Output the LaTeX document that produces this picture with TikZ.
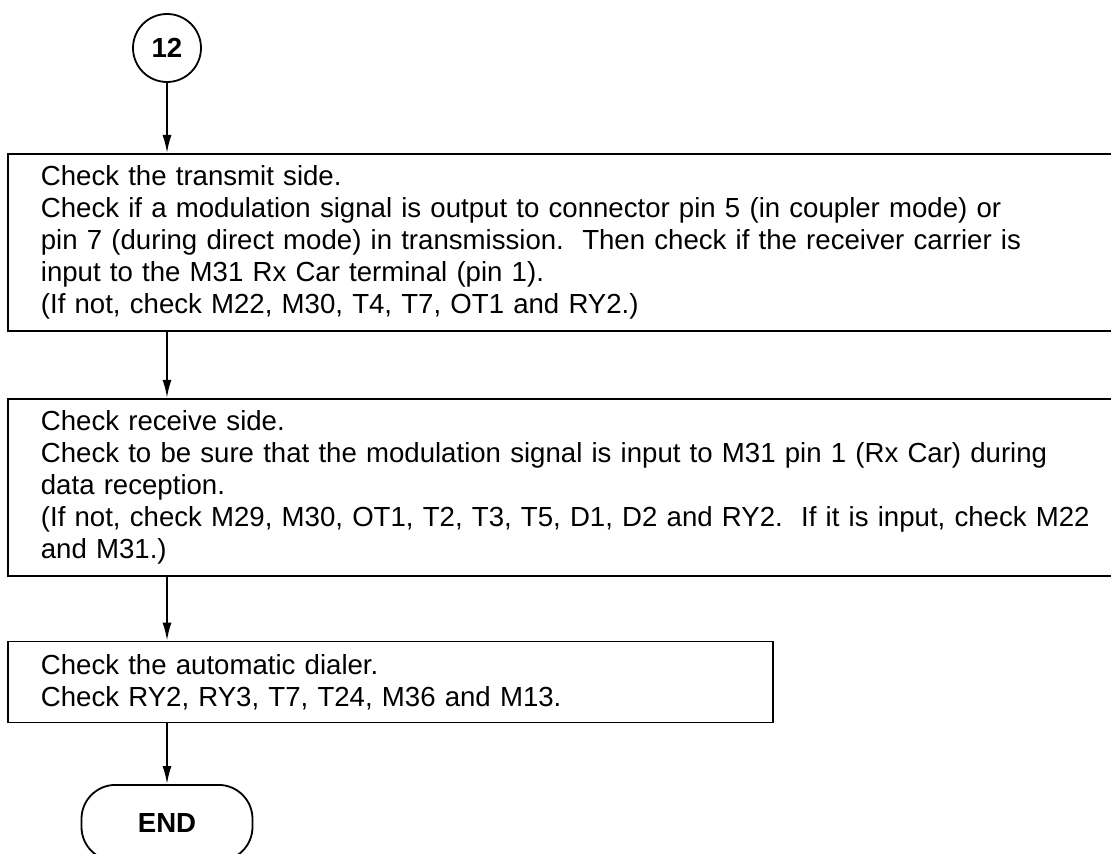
\documentclass[tikz,border=0pt]{standalone}
\usepackage{fontspec}
\setmainfont{Liberation Sans}
\usepackage{tikz}
\usetikzlibrary{arrows.meta}
\usetikzlibrary{positioning}
\tikzset{
  stepbox/.style={draw, line width=0.9pt, align=left, inner xsep=16.5pt, text width=#1,
    font=\fontsize{13.8}{16}\selectfont},
  stepbox/.default=600pt,
  ring/.style={draw, circle, line width=0.9pt, minimum size=34pt, inner sep=0pt,
    font=\fontsize{13.8}{16}\selectfont\bfseries},
  term/.style={draw, rounded corners=17pt, line width=0.9pt, minimum width=85.5pt,
    minimum height=38pt, font=\fontsize{13.8}{16}\selectfont\bfseries},
  flow/.style={-{Latex[length=9pt, width=4.5pt]}, line width=0.9pt},
}

\begin{document}
\begin{tikzpicture}
  \useasboundingbox (0,0) rectangle (555.5pt,-427pt);
  \node[ring] (start) at (83.5pt,-24pt) {12};
  \node[stepbox, minimum height=88.5pt, anchor=north west] (transmit) at (3.5pt,-76.5pt)
    {Check the transmit side.\\
     Check if a modulation signal is output to connector pin 5 (in coupler mode) or\\
     pin 7 (during direct mode) in transmission.\ \ Then check if the receiver carrier is\\
     input to the M31 Rx Car terminal (pin 1).\\
     (If not, check M22, M30, T4, T7, OT1 and RY2.)};
  \node[stepbox, minimum height=88.5pt, below=33pt of transmit.south west, anchor=north west] (receive)
    {Check receive side.\\
     Check to be sure that the modulation signal is input to M31 pin 1 (Rx Car) during\\
     data reception.\\
     (If not, check M29, M30, OT1, T2, T3, T5, D1, D2 and RY2.\ \ If it is input, check M22\\
     and M31.)};
  \node[stepbox=349.5pt, minimum width=382.5pt, minimum height=40.5pt, below=32pt of receive.south west, anchor=north west] (dialer)
    {Check the automatic dialer.\\
     Check RY2, RY3, T7, T24, M36 and M13.};
  \node[term, anchor=north] (finish) at (83.5pt,-392pt) {END};
  % flow lines
  \draw[flow] (start) -- (start |- transmit.north);
  \draw[flow] (start |- transmit.south) -- (start |- receive.north);
  \draw[flow] (start |- receive.south) -- (start |- dialer.north);
  \draw[flow] (start |- dialer.south) -- (finish);
\end{tikzpicture}
\end{document}
